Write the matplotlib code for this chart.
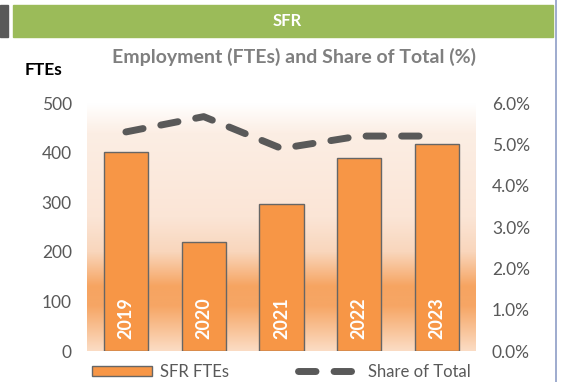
import matplotlib.pyplot as plt
import numpy as np
from matplotlib.colors import LinearSegmentedColormap
from matplotlib.patches import Rectangle, Patch
from matplotlib.lines import Line2D
from matplotlib.ticker import FuncFormatter

plt.rcParams['font.family'] = ['Lato', 'DejaVu Sans']
plt.rcParams['lines.scale_dashes'] = False

years = ['2019', '2020', '2021', '2022', '2023']
ftes = [401, 220, 296, 390, 418]
share = [0.053, 0.0567, 0.049, 0.052, 0.052]

W, H = 566, 382
fig = plt.figure(figsize=(W / 100, H / 100), dpi=100)

# header strip
fig.patches.append(Rectangle((0, 1 - 36.7 / H), 8 / W, 31.7 / H,
                             transform=fig.transFigure, color='#595959'))
fig.patches.append(Rectangle((12.7 / W, 1 - 36.7 / H), 540.5 / W, 31.7 / H,
                             transform=fig.transFigure, color='#9BBB59'))
fig.text(287 / W, 1 - 21 / H, 'SFR', color='white', fontsize=12,
         fontweight='bold', ha='center', va='center')
fig.add_artist(Line2D([556 / W, 556 / W], [0, 1], transform=fig.transFigure,
                      color='#8E9DC6', lw=1.2))

fig.text(294.5 / W, 1 - 57 / H, 'Employment (FTEs) and Share of Total (%)',
         color='#7F7F7F', fontsize=14, fontweight='bold',
         ha='center', va='center')
fig.text(25 / W, 1 - 70 / H, 'FTEs', color='black', fontsize=12.5,
         fontweight='bold', ha='left', va='center')

ax = fig.add_axes([87 / W, 1 - 351 / H, (476 - 87) / W, (351 - 103) / H])
x = np.arange(len(years))

# vertical gradient behind the bars
grad = LinearSegmentedColormap.from_list('bg', [
    (0.00, '#FBDCC4'),
    (0.18, '#F6A665'),
    (0.26, '#F6A461'),
    (0.40, '#F9D6BC'),
    (0.54, '#FBE5D6'),
    (0.88, '#FCEEE4'),
    (1.00, '#FFFFFF'),
])
ax.imshow(np.linspace(0, 1, 256).reshape(-1, 1), cmap=grad, origin='lower',
          aspect='auto', extent=[-0.5, 4.5, 0, 500], zorder=0)

ax.bar(x, ftes, width=0.57, color='#F79646', edgecolor='#666666',
       linewidth=1, zorder=2)
for xi, yr in zip(x, years):
    ax.text(xi, 66, yr, rotation=90, color='white', fontsize=13,
            fontweight='bold', ha='center', va='center', zorder=3)

ax.set_xlim(-0.5, 4.5)
ax.set_ylim(0, 500)
ax.set_yticks(range(0, 501, 100))
ax.set_xticks([])
ax.tick_params(axis='y', length=0, pad=11, labelsize=12.5, labelcolor='#595959')
for s in ax.spines.values():
    s.set_visible(False)

ax2 = ax.twinx()
ax2.plot(x, share, color='#595959', lw=5, dashes=(12.6, 13),
         dash_capstyle='round', solid_joinstyle='round', zorder=4)
ax2.set_ylim(0, 0.06)
ax2.set_yticks(np.arange(0, 0.061, 0.01))
ax2.yaxis.set_major_formatter(FuncFormatter(lambda v, p: f'{v * 100:.1f}%'))
ax2.tick_params(axis='y', length=0, pad=11.5, labelsize=12.5, labelcolor='#595959')
for s in ax2.spines.values():
    s.set_visible(False)

# legend entries
h1 = Patch(facecolor='#F79646', edgecolor='#666666', linewidth=1)
fig.legend([h1], ['SFR FTEs'], loc='center left',
           bbox_to_anchor=(92 / W, 1 - 372 / H), frameon=False, fontsize=12,
           handlelength=3.6, handleheight=0.6, handletextpad=0.5,
           borderpad=0, borderaxespad=0, labelcolor='#595959')
h2 = Line2D([], [], color='#595959', lw=5, dashes=(12.6, 13),
            dash_capstyle='round')
fig.legend([h2], ['Share of Total'], loc='center left',
           bbox_to_anchor=(298 / W, 1 - 372 / H), frameon=False, fontsize=12,
           handlelength=3.9, handletextpad=0.3,
           borderpad=0, borderaxespad=0, labelcolor='#595959')

fig.savefig('out.png', dpi=100)
